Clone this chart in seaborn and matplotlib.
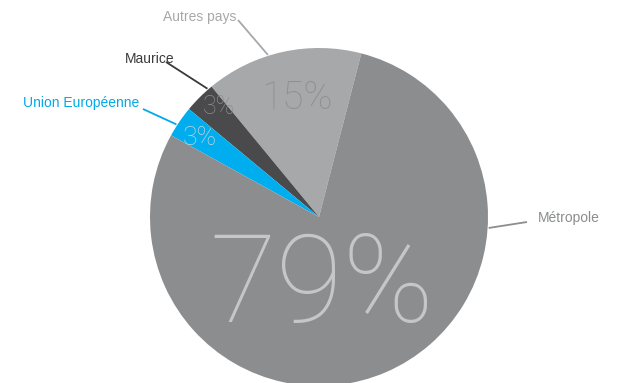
import numpy as np
import matplotlib
matplotlib.use("Agg")
import matplotlib.pyplot as plt
import seaborn as sns

# Origine des visiteurs
categories = ["Autres pays", "Maurice", "Union Européenne", "Métropole"]
values = [15, 3, 3, 79]
slice_colors = ["#a6a8aa", "#4a494c", "#00aeef", "#8b8d8f"]
label_colors = ["#a6a8aa", "#3a3a3c", "#00a9e8", "#8b8d8f"]
pct_colors = ["#8e9092", "#8c8c8f", "#bcd6e2", "#c4c6c8"]

sns.set_theme(style="white")
plt.rcParams["font.family"] = ["Liberation Sans", "DejaVu Sans"]

W, H = 622, 383
fig = plt.figure(figsize=(W / 100, H / 100), dpi=100)
ax = fig.add_axes([0, 0, 1, 1])

cx, cy, R = 319, 166, 169
start = 75.5

ax.pie(values, colors=slice_colors, startangle=start, counterclock=True,
       radius=R, center=(cx, cy), wedgeprops=dict(linewidth=0), frame=True)
ax.set_xlim(0, W)
ax.set_ylim(0, H)
ax.set_aspect("equal")
ax.axis("off")

# percentage labels inside the slices
pct_pos = [(297, 285), (219, 276), (200, 245), (322, 95)]
pct_size = [28, 18, 19, 88]
for v, col, (x, y), fs in zip(values, pct_colors, pct_pos, pct_size):
    ax.text(x, y, f"{v}%", ha="center", va="center", color=col,
            fontsize=fs, family=["Roboto", "DejaVu Sans"], fontweight=100)

# category labels with leader lines
anchor_angles = [107.5, 131.0, 147.0, -3.7]
text_pos = [(200, 366), (150, 324), (81, 280), (569, 165)]
line_ends = [(238, 363), (166, 321), (143, 274), (527, 161)]
for name, col, ang, tp, le in zip(categories, label_colors,
                                  anchor_angles, text_pos, line_ends):
    a = np.deg2rad(ang)
    px = cx + (R + 1) * np.cos(a)
    py = cy + (R + 1) * np.sin(a)
    ax.plot([px, le[0]], [py, le[1]], color=col, lw=1.3, solid_capstyle="butt")
    ax.text(tp[0], tp[1], name, ha="center", va="center", color=col, fontsize=10)

fig.savefig("out.png", dpi=100)
